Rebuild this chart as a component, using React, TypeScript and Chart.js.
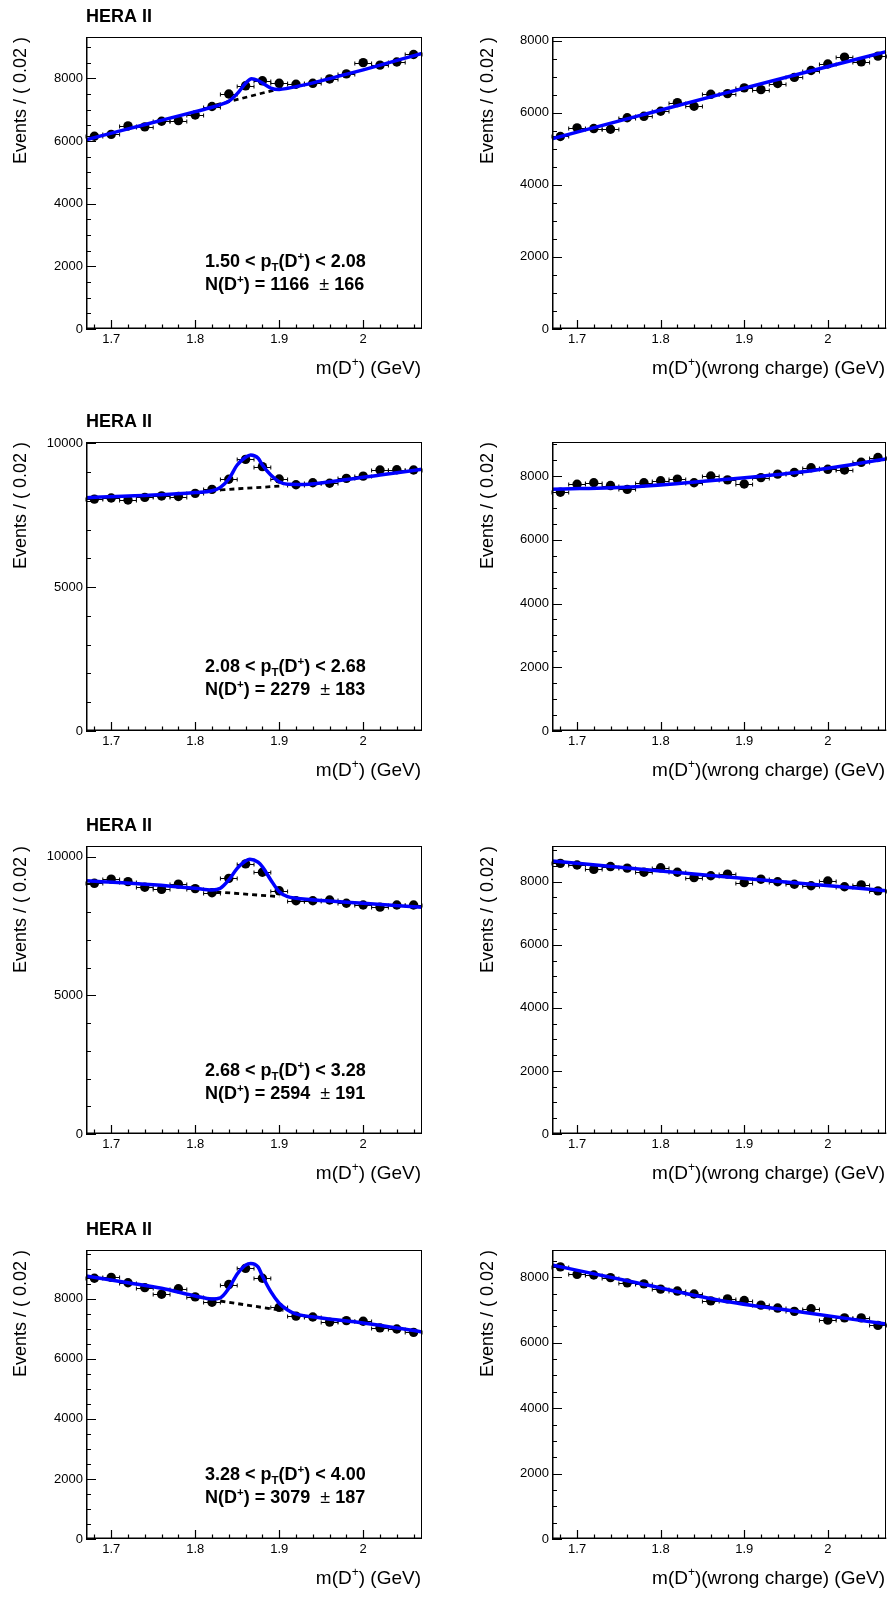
import React, { useEffect, useRef } from 'react';
import { Chart, registerables } from 'chart.js';

Chart.register(...registerables);

const FONT = "'Liberation Sans', Arial, Helvetica, sans-serif";

// ---- data ----
const massBins = [1.68, 1.70, 1.72, 1.74, 1.76, 1.78, 1.80, 1.82, 1.84, 1.86, 1.88, 1.90, 1.92, 1.94, 1.96, 1.98, 2.00, 2.02, 2.04, 2.06];
const xMajorTicks = [1.7, 1.8, 1.9, 2.0];
const xRange = [1.67, 2.07];

const countsPt1 = [6150, 6210, 6480, 6450, 6630, 6650, 6830, 7100, 7500, 7760, 7920, 7840, 7810, 7840, 7980, 8140, 8500, 8420, 8520, 8760];
const countsPt1WC = [5340, 5580, 5560, 5540, 5860, 5900, 6040, 6280, 6180, 6510, 6530, 6690, 6640, 6810, 6980, 7170, 7350, 7540, 7410, 7570];
const countsPt2 = [8060, 8100, 8030, 8120, 8170, 8150, 8260, 8400, 8750, 9440, 9190, 8760, 8560, 8630, 8610, 8780, 8860, 9070, 9080, 9070];
const countsPt2WC = [7490, 7740, 7790, 7700, 7580, 7790, 7850, 7900, 7790, 8000, 7880, 7750, 7950, 8060, 8110, 8260, 8210, 8190, 8430, 8580];
const countsPt3 = [9040, 9190, 9100, 8900, 8820, 9010, 8850, 8700, 9220, 9740, 9440, 8770, 8410, 8410, 8440, 8320, 8260, 8180, 8260, 8260];
const countsPt3WC = [8580, 8530, 8390, 8480, 8430, 8300, 8440, 8300, 8130, 8190, 8240, 7970, 8080, 8000, 7920, 7870, 8020, 7840, 7900, 7710];
const countsPt4 = [8680, 8710, 8530, 8370, 8150, 8330, 8060, 7880, 8470, 9010, 8680, 7710, 7420, 7390, 7220, 7270, 7250, 7030, 6990, 6880];
const countsPt4WC = [8320, 8090, 8070, 7990, 7830, 7800, 7640, 7580, 7490, 7280, 7340, 7290, 7150, 7060, 6960, 7040, 6690, 6760, 6760, 6530];

// total fit curves
const fitPt1X = [1.67, 1.72, 1.77, 1.80, 1.82, 1.83, 1.84, 1.85, 1.86, 1.867, 1.875, 1.88, 1.89, 1.90, 1.91, 1.93, 1.97, 2.00, 2.07];
const fitPt1Y = [6041, 6385, 6730, 6935, 7075, 7160, 7270, 7510, 7840, 7988, 7930, 7850, 7690, 7645, 7680, 7790, 8060, 8270, 8794];
const fitPt2X = [1.67, 1.75, 1.80, 1.82, 1.83, 1.84, 1.85, 1.86, 1.866, 1.875, 1.88, 1.89, 1.90, 1.91, 1.93, 1.97, 2.02, 2.07];
const fitPt2Y = [8110, 8200, 8290, 8350, 8470, 8760, 9246, 9513, 9593, 9480, 9246, 8898, 8666, 8575, 8570, 8700, 8900, 9096];
const fitPt3X = [1.67, 1.75, 1.80, 1.82, 1.83, 1.84, 1.85, 1.86, 1.865, 1.875, 1.88, 1.89, 1.90, 1.91, 1.92, 1.96, 2.00, 2.07];
const fitPt3Y = [9135, 8990, 8860, 8800, 8860, 9160, 9582, 9845, 9906, 9800, 9640, 9160, 8738, 8558, 8500, 8400, 8320, 8175];
const fitPt4X = [1.67, 1.72, 1.76, 1.80, 1.82, 1.83, 1.84, 1.85, 1.86, 1.866, 1.875, 1.88, 1.89, 1.90, 1.91, 1.92, 1.95, 2.00, 2.07];
const fitPt4Y = [8754, 8531, 8345, 8090, 7990, 8030, 8345, 8820, 9119, 9175, 9050, 8754, 8233, 7848, 7625, 7492, 7359, 7193, 6894];

// background component (visible dashed part)
const bkgPt1X = [1.825, 1.905];
const bkgPt1Y = [7150, 7700];
const bkgPt2X = [1.83, 1.905];
const bkgPt2Y = [8380, 8520];
const bkgPt3X = [1.825, 1.90];
const bkgPt3Y = [8730, 8560];
const bkgPt4X = [1.83, 1.905];
const bkgPt4Y = [7923, 7600];

// wrong-charge fits
const fitWCX = [1.67, 1.77, 1.87, 1.97, 2.07];
const fitPt1WCY = [5277, 5890, 6500, 7100, 7693];
const fitPt2WCY = [7583, 7665, 7875, 8136, 8533];
const fitPt3WCY = [8656, 8410, 8170, 7940, 7715];
const fitPt4WCY = [8376, 7840, 7300, 6930, 6573];

const ptEdges = ['1.50', '2.08', '2.68', '3.28', '4.00'];
const yields = [1166, 2279, 2594, 3079];
const yieldErrs = [166, 183, 191, 187];

const yMaxRight = [9318, 10045, 10386, 9621];
const yMaxWrong = [8100, 9067, 9132, 8835];

// ---- layout ----
const COLS = [
  { left: 0, width: 445, areaLeft: 86, areaRight: 422, yTitleX: 25.5, xTitleEnd: 421 },
  { left: 445, width: 446, areaLeft: 552, areaRight: 888, yTitleX: 493, xTitleEnd: 885 },
];
const ROWS = [
  { top: 0, height: 405, areaTop: 37, areaBottom: 329 },
  { top: 405, height: 404, areaTop: 442, areaBottom: 731 },
  { top: 809, height: 404, areaTop: 846, areaBottom: 1134 },
  { top: 1213, height: 386, areaTop: 1250, areaBottom: 1539 },
];

type Seg = { t: string; size: number; bold?: boolean; dy?: number };

function segFont(s: Seg) {
  return `${s.bold ? 'bold ' : ''}${s.size}px ${FONT}`;
}
function drawSegs(ctx: CanvasRenderingContext2D, segs: Seg[], x: number, y: number, align: 'left' | 'right') {
  let total = 0;
  const widths = segs.map((s) => {
    ctx.font = segFont(s);
    const w = ctx.measureText(s.t).width;
    total += w;
    return w;
  });
  let cx = align === 'right' ? x - total : x;
  ctx.textAlign = 'left';
  ctx.textBaseline = 'alphabetic';
  segs.forEach((s, i) => {
    ctx.font = segFont(s);
    ctx.fillText(s.t, cx, y + (s.dy || 0));
    cx += widths[i];
  });
}

type PanelCfg = {
  row: number;
  col: number;
  counts: number[];
  fitX: number[];
  fitY: number[];
  bkgX: number[] | null;
  bkgY: number[] | null;
  yMax: number;
  yMajorStep: number;
  yMinorStep: number;
  ptIndex: number;
};

const PANELS: PanelCfg[] = [];
const rightCounts = [countsPt1, countsPt2, countsPt3, countsPt4];
const wrongCounts = [countsPt1WC, countsPt2WC, countsPt3WC, countsPt4WC];
const fitsX = [fitPt1X, fitPt2X, fitPt3X, fitPt4X];
const fitsY = [fitPt1Y, fitPt2Y, fitPt3Y, fitPt4Y];
const bkgsX = [bkgPt1X, bkgPt2X, bkgPt3X, bkgPt4X];
const bkgsY = [bkgPt1Y, bkgPt2Y, bkgPt3Y, bkgPt4Y];
const fitsWCY = [fitPt1WCY, fitPt2WCY, fitPt3WCY, fitPt4WCY];
for (let r = 0; r < 4; r++) {
  const big = yMaxRight[r] > 10000;
  PANELS.push({
    row: r, col: 0, counts: rightCounts[r], fitX: fitsX[r], fitY: fitsY[r], bkgX: bkgsX[r], bkgY: bkgsY[r],
    yMax: yMaxRight[r], yMajorStep: big ? 5000 : 2000, yMinorStep: big ? 1000 : 500, ptIndex: r,
  });
  PANELS.push({
    row: r, col: 1, counts: wrongCounts[r], fitX: fitWCX, fitY: fitsWCY[r], bkgX: null, bkgY: null,
    yMax: yMaxWrong[r], yMajorStep: 2000, yMinorStep: 500, ptIndex: r,
  });
}

function makeDecor(cfg: PanelCfg) {
  const col = COLS[cfg.col];
  const row = ROWS[cfg.row];
  return {
    id: 'rootDecor',
    beforeDatasetsDraw(chart: any) {
      const { ctx, scales } = chart;
      const x = scales.x, y = scales.y;
      ctx.save();
      ctx.strokeStyle = '#000';
      ctx.lineWidth = 1;
      massBins.forEach((xb, i) => {
        const py = Math.round(y.getPixelForValue(cfg.counts[i])) + 0.5;
        const x0 = x.getPixelForValue(xb - 0.01);
        const x1 = x.getPixelForValue(xb + 0.01);
        ctx.beginPath();
        ctx.moveTo(x0, py); ctx.lineTo(x1, py);
        ctx.moveTo(x0, py - 2); ctx.lineTo(x0, py + 2);
        ctx.moveTo(x1, py - 2); ctx.lineTo(x1, py + 2);
        ctx.stroke();
      });
      ctx.restore();
    },
    afterDraw(chart: any) {
      const { ctx, chartArea, scales } = chart;
      const x = scales.x, y = scales.y;
      const L = chartArea.left, R = chartArea.right, T = chartArea.top, B = chartArea.bottom;
      ctx.save();
      ctx.strokeStyle = '#000';
      // frame
      ctx.lineWidth = 1;
      ctx.strokeRect(Math.round(L) + 0.5, Math.round(T) + 0.5, Math.round(R - L) - 1, Math.round(B - T) - 1);
      ctx.lineWidth = 1.5;
      ctx.beginPath();
      ctx.moveTo(L + 0.75, T); ctx.lineTo(L + 0.75, B);
      ctx.moveTo(L, B - 0.75); ctx.lineTo(R, B - 0.75);
      ctx.stroke();
      // y ticks
      ctx.lineWidth = 1.2;
      ctx.beginPath();
      for (let k = 0; k * cfg.yMinorStep <= cfg.yMax; k++) {
        const v = k * cfg.yMinorStep;
        const major = v % cfg.yMajorStep === 0;
        const py = Math.round(y.getPixelForValue(v)) + 0.5;
        ctx.moveTo(L, py);
        ctx.lineTo(L + (major ? 10 : 5), py);
      }
      // x ticks
      for (let k = 0; k < 20; k++) {
        const v = 1.68 + 0.02 * k;
        const major = xMajorTicks.some((m) => Math.abs(m - v) < 1e-6);
        const px = Math.round(x.getPixelForValue(v)) + 0.5;
        ctx.moveTo(px, B);
        ctx.lineTo(px, B - (major ? 9 : 4.5));
      }
      ctx.stroke();

      ctx.fillStyle = '#000';
      const ox = col.left;
      const oy = row.top;
      // y title (rotated)
      ctx.save();
      ctx.translate(col.yTitleX - ox, row.areaTop - oy);
      ctx.rotate(-Math.PI / 2);
      drawSegs(ctx, [{ t: 'Events / ( 0.02 )', size: 18 }], 0, 0, 'right');
      ctx.restore();
      // x title
      const sup: Seg = { t: '+', size: 12, dy: -8 };
      const xSegs: Seg[] = cfg.col === 0
        ? [{ t: 'm(D', size: 19 }, sup, { t: ') (GeV)', size: 19 }]
        : [{ t: 'm(D', size: 19 }, sup, { t: ')(wrong charge) (GeV)', size: 19 }];
      drawSegs(ctx, xSegs, col.xTitleEnd - ox, B + 45, 'right');

      if (cfg.col === 0) {
        drawSegs(ctx, [{ t: 'HERA II', size: 18, bold: true }], L, T - 15, 'left');
        const i = cfg.ptIndex;
        const bsup: Seg = { t: '+', size: 11.5, bold: true, dy: -7.5 };
        const line1: Seg[] = [
          { t: `${ptEdges[i]} < p`, size: 18, bold: true },
          { t: 'T', size: 11.5, bold: true, dy: 4 },
          { t: '(D', size: 18, bold: true },
          bsup,
          { t: `) < ${ptEdges[i + 1]}`, size: 18, bold: true },
        ];
        const line2: Seg[] = [
          { t: 'N(D', size: 18, bold: true },
          bsup,
          { t: `) = ${yields[i]}  `, size: 18, bold: true },
          { t: '\u00b1', size: 18 },
          { t: ` ${yieldErrs[i]}`, size: 18, bold: true },
        ];
        const tx = 205 - ox;
        drawSegs(ctx, line1, tx, T + 230, 'left');
        drawSegs(ctx, line2, tx, T + 253, 'left');
      }
      ctx.restore();
    },
  };
}

function buildConfig(cfg: PanelCfg): any {
  const col = COLS[cfg.col];
  const row = ROWS[cfg.row];
  const yAxisW = col.areaLeft - col.left;
  const rightPad = col.left + col.width - col.areaRight;
  const topPad = row.areaTop - row.top;
  const xAxisH = row.top + row.height - row.areaBottom;
  const yMajors: number[] = [];
  for (let v = 0; v <= cfg.yMax; v += cfg.yMajorStep) yMajors.push(v);

  const datasets: any[] = [
    {
      label: 'fit',
      data: cfg.fitX.map((xv, i) => ({ x: xv, y: cfg.fitY[i] })),
      showLine: true,
      borderColor: '#0000ff',
      borderWidth: 3.5,
      pointRadius: 0,
      cubicInterpolationMode: 'monotone',
      order: 0,
    },
  ];
  if (cfg.bkgX && cfg.bkgY) {
    const by = cfg.bkgY;
    datasets.push({
      label: 'background',
      data: cfg.bkgX.map((xv, i) => ({ x: xv, y: by[i] })),
      showLine: true,
      borderColor: '#000000',
      borderWidth: 2.8,
      borderDash: [5, 4],
      pointRadius: 0,
      order: 1,
    });
  }
  datasets.push({
    label: 'data',
    data: massBins.map((xv, i) => ({ x: xv, y: cfg.counts[i] })),
    showLine: false,
    pointRadius: 4.7,
    pointBackgroundColor: '#000000',
    pointBorderWidth: 0,
    pointStyle: 'circle',
    order: 2,
  });

  return {
    type: 'line',
    data: { datasets },
    options: {
      animation: false,
      responsive: false,
      devicePixelRatio: 1,
      events: [],
      layout: { padding: { top: topPad, right: rightPad, left: 0, bottom: 0 } },
      plugins: { legend: { display: false }, tooltip: { enabled: false }, title: { display: false } },
      scales: {
        x: {
          type: 'linear',
          min: xRange[0],
          max: xRange[1],
          afterBuildTicks: (s: any) => { s.ticks = xMajorTicks.map((v) => ({ value: v })); },
          afterFit: (s: any) => { s.height = xAxisH; },
          grid: { display: false, drawTicks: false },
          border: { display: false },
          ticks: {
            autoSkip: false,
            maxRotation: 0,
            padding: 3,
            color: '#000',
            font: { family: FONT, size: 13 },
            callback: (v: any) => String(Math.round(Number(v) * 10) / 10),
          },
        },
        y: {
          type: 'linear',
          min: 0,
          max: cfg.yMax,
          afterBuildTicks: (s: any) => { s.ticks = yMajors.map((v) => ({ value: v })); },
          afterFit: (s: any) => { s.width = yAxisW; },
          grid: { display: false, drawTicks: false },
          border: { display: false },
          ticks: {
            padding: 3,
            color: '#000',
            font: { family: FONT, size: 13 },
            callback: (v: any) => String(Math.round(Number(v))),
          },
        },
      },
    },
    plugins: [makeDecor(cfg)],
  };
}

function Panel({ cfg }: { cfg: PanelCfg }) {
  const ref = useRef<HTMLCanvasElement>(null);
  const col = COLS[cfg.col];
  const row = ROWS[cfg.row];
  useEffect(() => {
    const canvas = ref.current;
    if (!canvas) return;
    const chart = new Chart(canvas, buildConfig(cfg));
    return () => chart.destroy();
  }, [cfg]);
  return (
    <canvas
      ref={ref}
      width={col.width}
      height={row.height}
      style={{ position: 'absolute', left: col.left, top: row.top, width: col.width, height: row.height }}
    />
  );
}

export default function App() {
  return (
    <div style={{ position: 'absolute', left: 0, top: 0, width: 891, height: 1599, background: '#fff', overflow: 'hidden' }}>
      {PANELS.map((p, i) => (
        <Panel key={i} cfg={p} />
      ))}
    </div>
  );
}
